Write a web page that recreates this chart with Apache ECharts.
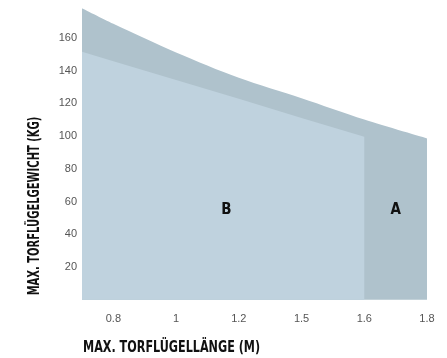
<!DOCTYPE html>
<html>
<head>
<meta charset="utf-8">
<script src="https://cdn.jsdelivr.net/npm/echarts@6/dist/echarts.min.js"></script>
<style>
  html, body { margin: 0; padding: 0; background: #fff; }
  #chart { width: 447px; height: 358px; }
</style>
</head>
<body>
<div id="chart"></div>
<script>
// Gate leaf length categories (evenly spaced on the axis, index 0..5)
const lengthLabels = ['0.8', '1', '1.2', '1.5', '1.6', '1.8'];
const weightTicks = [20, 40, 60, 80, 100, 120, 140, 160];

// Zone A: upper limit curve [axis position, max weight kg]
const zoneAPos = [-0.5, 0, 1, 2, 3, 4, 5];
const zoneAVal = [178, 168.5, 151, 135.5, 123, 110, 98.5];

// Zone B: upper limit, ends at 1.6 m
const zoneBPos = [-0.5, 0, 1, 2, 3, 4, 4];
const zoneBVal = [151.5, 145.7, 134.2, 122.7, 111, 99.5, 0];

const zoneNames = ['A', 'B'];
const zoneLabelPos = [[4.5, 55], [1.8, 55]];

const titleFont = '"Liberation Sans Narrow", "DejaVu Sans Condensed", "Liberation Sans", sans-serif';
const tickFont = '"Liberation Sans", Arial, sans-serif';

const pairs = (xs, ys) => xs.map((x, i) => [x, ys[i]]);

const zoneLabel = (name, coord) => ({
  symbol: 'circle',
  symbolSize: 1,
  itemStyle: { color: 'rgba(0,0,0,0)' },
  data: [{ coord: coord, value: name }],
  label: {
    show: true,
    position: 'inside',
    formatter: name,
    color: '#111',
    fontSize: 15,
    fontWeight: 'bold',
    fontFamily: titleFont
  }
});

const chart = echarts.init(document.getElementById('chart'), null, { renderer: 'canvas' });

chart.setOption({
  animation: false,
  grid: { left: 82, right: 20, top: 5, bottom: 55, outerBoundsMode: 'none' },
  xAxis: {
    type: 'value',
    min: -0.5,
    max: 5,
    axisLine: { show: false },
    axisTick: { show: false },
    splitLine: { show: false },
    axisLabel: {
      customValues: [0, 1, 2, 3, 4, 5],
      formatter: v => lengthLabels[Math.round(v)],
      color: '#555',
      fontSize: 11,
      fontFamily: tickFont,
      margin: 10
    }
  },
  yAxis: {
    type: 'value',
    min: -2,
    max: 180,
    axisLine: { show: false },
    axisTick: { show: false },
    splitLine: { show: false },
    axisLabel: {
      customValues: weightTicks,
      color: '#555',
      fontSize: 11,
      fontFamily: tickFont,
      margin: 5
    }
  },
  series: [
    {
      name: zoneNames[0],
      type: 'line',
      data: pairs(zoneAPos, zoneAVal),
      smooth: 0.3,
      symbol: 'none',
      lineStyle: { width: 0 },
      areaStyle: { color: '#afc2cc', opacity: 1 },
      z: 1,
      markPoint: zoneLabel(zoneNames[0], zoneLabelPos[0])
    },
    {
      name: zoneNames[1],
      type: 'line',
      data: pairs(zoneBPos, zoneBVal),
      symbol: 'none',
      lineStyle: { width: 0 },
      areaStyle: { color: '#bfd2de', opacity: 1 },
      z: 2,
      markPoint: zoneLabel(zoneNames[1], zoneLabelPos[1])
    }
  ],
  graphic: [
    {
      type: 'text',
      x: 83,
      y: 348,
      scaleX: 0.83,
      style: {
        text: 'MAX. TORFLÜGELLÄNGE (M)',
        fill: '#111',
        font: 'bold 15px ' + titleFont,
        align: 'left',
        verticalAlign: 'middle'
      }
    },
    {
      type: 'text',
      x: 35,
      y: 206,
      rotation: Math.PI / 2,
      scaleX: 0.74,
      style: {
        text: 'MAX. TORFLÜGELGEWICHT (KG)',
        fill: '#111',
        font: 'bold 15px ' + titleFont,
        align: 'center',
        verticalAlign: 'middle'
      }
    }
  ]
});
</script>
</body>
</html>
